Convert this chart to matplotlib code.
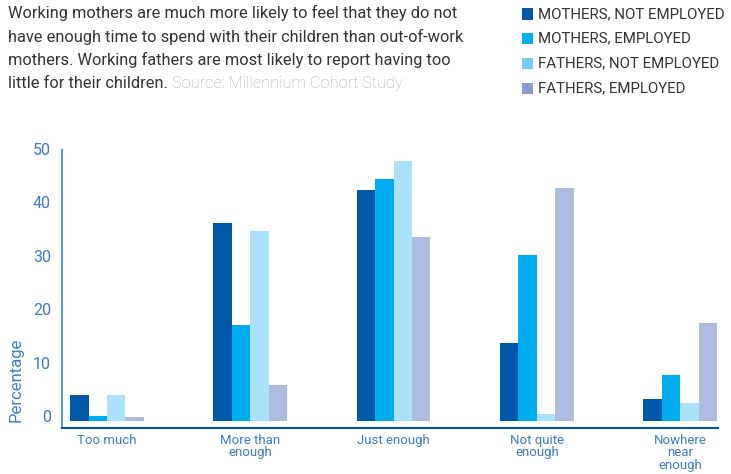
import matplotlib
matplotlib.use("Agg")
import matplotlib.pyplot as plt
import matplotlib.transforms as mtransforms
from matplotlib.patches import Rectangle
import numpy as np

plt.rcParams["font.family"] = ["Roboto", "DejaVu Sans"]

categories = ["Too much", "More than\nenough", "Just enough", "Not quite\nenough", "Nowhere\nnear\nenough"]
series_names = ["MOTHERS, NOT EMPLOYED", "MOTHERS, EMPLOYED", "FATHERS, NOT EMPLOYED", "FATHERS, EMPLOYED"]
mothers_not_employed = [4.8, 37.1, 43.2, 14.6, 4.1]
mothers_employed = [0.9, 18.0, 45.3, 31.1, 8.6]
fathers_not_employed = [4.8, 35.6, 48.7, 1.3, 3.4]
fathers_employed = [0.7, 6.7, 34.5, 43.6, 18.4]
y_ticks = [0, 10, 20, 30, 40, 50]

bar_colors = ["#0059a8", "#00aeef", "#abe1fa", "#aebcdf"]
legend_colors = ["#0059a8", "#00aeef", "#6dcff6", "#8a9bd0"]
label_blue = "#3d7cc0"

W, H = 731, 474
fig = plt.figure(figsize=(W / 100, H / 100), dpi=100)
ax = fig.add_axes([62 / W, 1 - 428 / H, (718 - 62) / W, (428 - 150) / H])

series = [mothers_not_employed, mothers_employed, fathers_not_employed, fathers_employed]
x = np.arange(len(categories))
width = 0.129
for k, (vals, col) in enumerate(zip(series, bar_colors)):
    ax.bar(x + (k - 1.5) * width, vals, width=width, color=col, linewidth=0)

ax.set_xlim(-0.314, 4.265)
ax.set_ylim(-1.31, 50.75)

for side in ["top", "right"]:
    ax.spines[side].set_visible(False)
ax.spines["left"].set_color("#5b9bd5")
ax.spines["left"].set_linewidth(1.5)
ax.spines["bottom"].set_color("#0059a8")
ax.spines["bottom"].set_linewidth(1.5)

ax.set_yticks(y_ticks)
ax.set_yticklabels([str(t) for t in y_ticks])
ax.tick_params(axis="y", length=0, pad=8, labelsize=11.5, labelcolor=label_blue)
shift = mtransforms.ScaledTranslation(0, 5 / 100, fig.dpi_scale_trans)
for lbl in ax.get_yticklabels():
    lbl.set_transform(lbl.get_transform() + shift)

ax.set_xticks(x)
ax.set_xticklabels(categories, linespacing=0.95)
ax.tick_params(axis="x", length=0, pad=4, labelsize=9.5, labelcolor=label_blue)

fig.text(16 / W, 1 - 380 / H, "Percentage", rotation=90, ha="center", va="center",
         fontsize=12, color=label_blue)

# Headline text with grey source note
title_lines = [
    "Working mothers are much more likely to feel that they do not",
    "have enough time to spend with their children than out-of-work",
    "mothers. Working fathers are most likely to report having too",
]
for i, line in enumerate(title_lines):
    fig.text(8 / W, 1 - (13 + 23.5 * i) / H, line, ha="left", va="center",
             fontsize=11.75, color="#333333")
t = fig.text(8 / W, 1 - (13 + 23.5 * 3) / H, "little for their children. ", ha="left",
             va="center", fontsize=11.75, color="#333333")
fig.canvas.draw()
bb = t.get_window_extent()
fig.text(bb.x1 / W, 1 - (13 + 23.5 * 3) / H, "Source: Millennium Cohort Study", ha="left",
         va="center", fontsize=11.75, color="#b0b0b0", fontweight="light")

# Legend
for i, (name, col) in enumerate(zip(series_names, legend_colors)):
    yc = 14 + 24.7 * i
    fig.patches.append(Rectangle((522 / W, 1 - (yc + 5.5) / H), 11 / W, 11 / H,
                                 transform=fig.transFigure, facecolor=col, edgecolor="none"))
    fig.text(538 / W, 1 - yc / H, name, ha="left", va="center", fontsize=10.85, color="#333333")

fig.savefig("out.png", dpi=100)
